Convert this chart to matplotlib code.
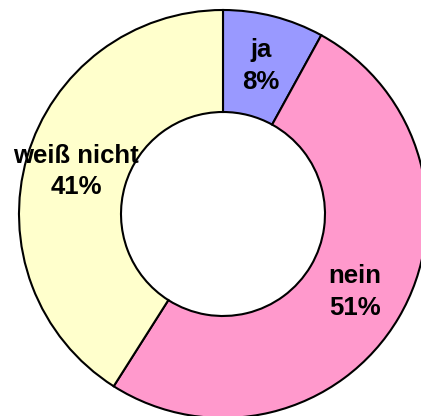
import matplotlib
matplotlib.use("Agg")
import matplotlib.pyplot as plt

categories = ["ja", "nein", "weiß nicht"]
values = [8, 51, 41]
colors = ["#9999FF", "#FF99CC", "#FFFFCC"]

W, H = 421, 416
fig = plt.figure(figsize=(W / 100, H / 100), dpi=100)
fig.patch.set_facecolor("white")

cx, cy, R = 223, 214, 204
ax = fig.add_axes([(cx - R) / W, (H - cy - R) / H, 2 * R / W, 2 * R / H])
ax.set_axis_off()

labels = [f"{c}\n{v}%" for c, v in zip(categories, values)]
wedges, texts = ax.pie(
    values, colors=colors, startangle=90, counterclock=False,
    radius=1.0, labels=labels, labeldistance=0.75,
    wedgeprops=dict(width=0.5, edgecolor="black", linewidth=1.5),
)
for t in texts:
    t.set_ha("center")
    t.set_va("center")
    t.set_fontfamily(["Liberation Sans", "DejaVu Sans"])
    t.set_fontweight("bold")
    t.set_fontsize(18.5)
    t.set_linespacing(1.4)
ax.set_xlim(-1, 1)
ax.set_ylim(-1, 1)
fig.savefig("out.png", dpi=100)
